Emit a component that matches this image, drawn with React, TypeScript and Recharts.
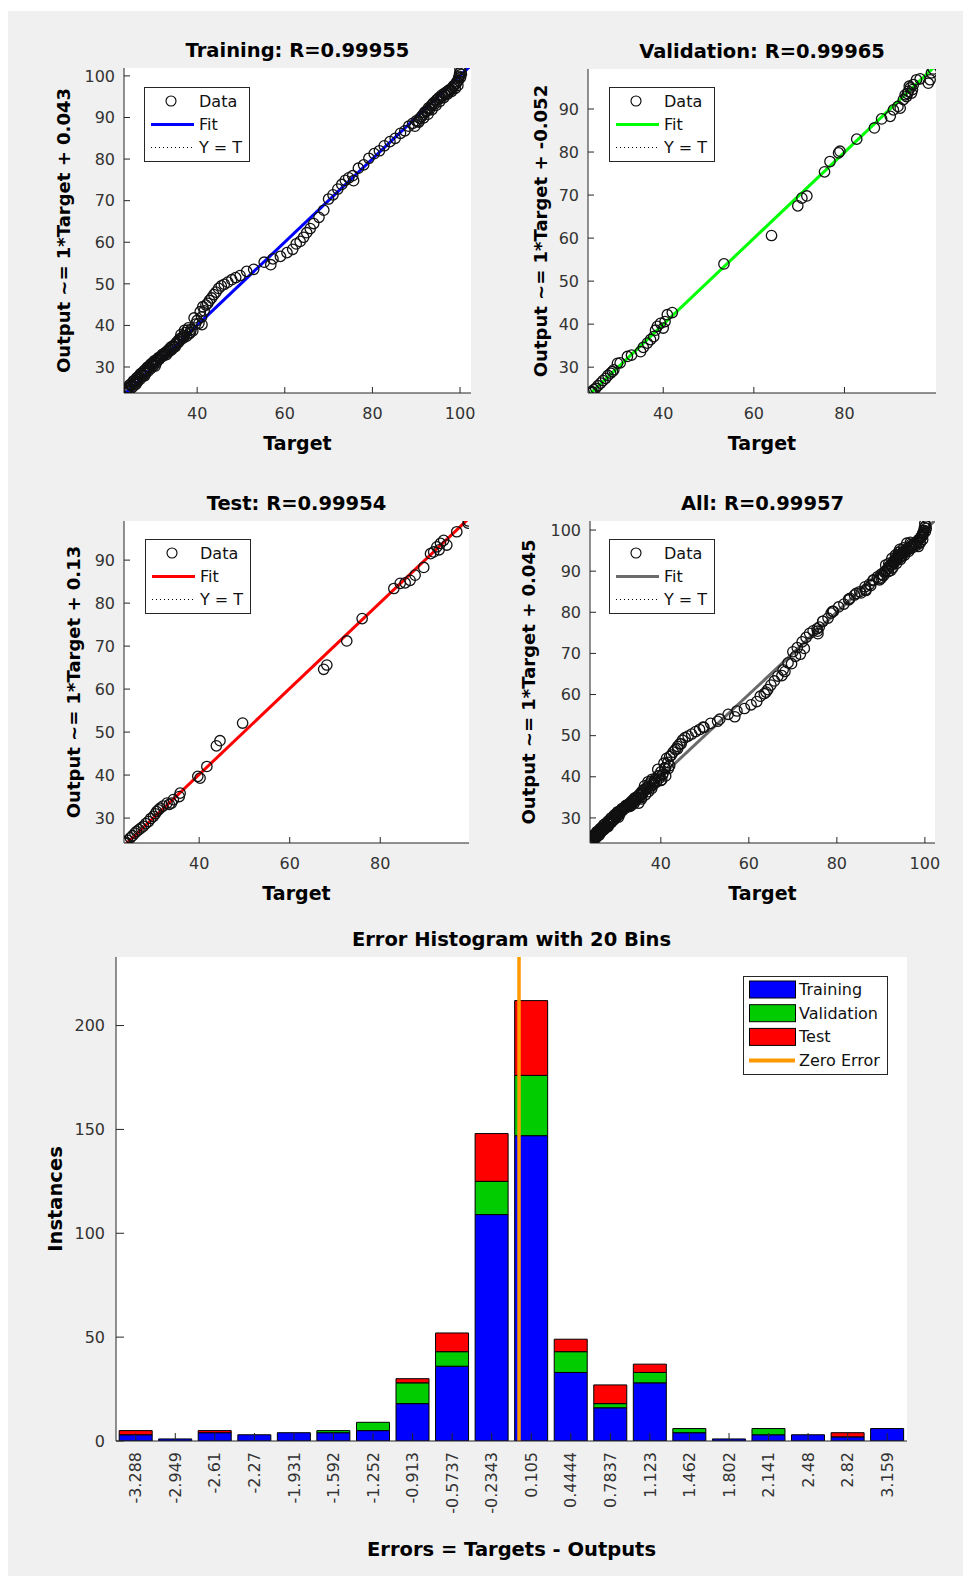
import React from "react";
import { Bar, BarChart, CartesianGrid, ReferenceLine, Scatter, ScatterChart, XAxis, YAxis } from "recharts";

// ---- regression data: [target, output] pairs ----
const trainingPairs: [number, number][] = [
  [23.6, 23.8], [23.9, 24.3], [24.1, 25.0], [24.2, 24.0], [24.4, 24.9], [24.6, 25.7], [24.7, 24.6],
  [24.9, 25.9], [25.0, 25.5], [25.3, 25.2], [25.4, 26.6], [25.5, 26.1], [25.7, 26.8], [25.8, 25.9],
  [26.0, 25.8], [26.1, 26.7], [26.2, 27.4], [26.4, 26.5], [26.5, 27.6], [26.7, 27.3], [27.0, 27.1],
  [27.0, 28.3], [27.3, 28.0], [27.3, 28.5], [27.6, 27.8], [27.8, 29.0], [27.9, 28.6], [28.0, 27.9],
  [28.1, 29.3], [28.2, 28.4], [28.5, 29.2], [28.6, 29.9], [28.8, 29.0], [28.9, 30.1], [29.1, 29.8],
  [29.4, 29.6], [29.4, 30.7], [29.7, 30.5], [29.8, 31.0], [30.0, 30.3], [30.2, 31.5], [30.3, 31.1],
  [30.4, 30.2], [30.6, 31.6], [30.7, 31.0], [31.0, 31.7], [31.1, 32.2], [31.4, 31.9], [31.5, 32.4],
  [31.8, 32.5], [32.0, 33.0], [32.2, 32.6], [32.4, 33.2], [32.6, 33.1], [32.8, 33.5], [33.0, 33.0],
  [33.2, 33.9], [33.4, 33.6], [33.6, 34.3], [33.8, 33.9], [34.0, 34.8], [34.2, 34.2], [34.4, 35.0],
  [34.6, 34.7], [34.9, 35.4], [35.0, 34.9], [35.2, 35.8], [35.4, 35.6], [35.6, 36.3], [35.8, 36.0],
  [36.0, 36.8], [36.2, 36.5], [36.3, 37.8], [36.6, 37.2], [36.9, 37.0], [37.0, 37.5], [37.1, 38.8],
  [37.4, 38.3], [37.6, 37.4], [37.8, 38.9], [38.0, 39.4], [38.2, 38.0], [38.4, 38.3], [38.6, 39.0],
  [39.0, 38.7], [39.3, 41.8], [39.6, 40.3], [40.0, 41.2], [40.4, 40.5], [40.7, 43.3], [41.0, 42.0],
  [41.1, 40.2], [41.3, 44.5], [41.6, 43.5], [42.0, 44.9], [42.4, 45.3], [42.8, 46.0], [43.3, 46.6],
  [43.8, 47.4], [44.3, 48.0], [44.9, 48.9], [45.5, 49.5], [46.2, 49.9], [47.0, 50.4], [47.9, 51.0],
  [48.8, 51.5], [49.8, 52.0], [51.3, 53.0], [52.9, 53.5], [55.3, 55.2], [56.8, 54.6], [57.3, 56.0],
  [59.0, 56.6], [60.5, 57.5], [61.8, 58.3], [62.6, 59.6], [63.5, 60.2], [64.3, 61.2], [65.0, 62.3],
  [65.8, 63.3], [66.6, 64.5], [67.8, 66.0], [68.9, 67.7], [70.0, 70.4], [71.0, 71.4], [72.1, 72.8],
  [73.0, 73.9], [73.8, 74.9], [74.6, 75.5], [75.5, 76.0], [75.7, 74.8], [76.8, 77.8], [78.0, 78.6],
  [79.2, 80.2], [80.4, 81.3], [81.6, 82.0], [82.7, 83.2], [84.0, 84.2], [85.2, 85.0], [86.4, 86.2],
  [87.4, 86.8], [88.3, 87.9], [89.2, 88.6], [89.7, 87.9], [90.0, 89.2], [90.4, 89.1], [90.6, 88.9],
  [90.8, 89.8], [91.2, 90.2], [91.5, 90.6], [91.7, 89.9], [91.9, 91.2], [92.2, 91.5], [92.5, 91.6],
  [92.7, 90.8], [92.8, 92.3], [93.1, 92.1], [93.4, 92.8], [93.6, 91.9], [93.7, 93.2], [94.0, 93.6],
  [94.3, 93.3], [94.5, 92.9], [94.6, 94.2], [94.9, 94.4], [95.2, 94.8], [95.4, 93.9], [95.5, 94.6],
  [95.8, 95.4], [96.1, 95.2], [96.3, 94.8], [96.4, 95.8], [96.7, 95.5], [97.0, 96.2], [97.2, 95.7],
  [97.3, 96.4], [97.6, 96.7], [97.9, 96.6], [98.1, 96.3], [98.2, 97.1], [98.5, 97.6], [98.8, 97.8],
  [98.9, 97.0], [99.1, 98.2], [99.3, 98.6], [99.5, 97.7], [99.6, 98.9], [99.7, 99.5], [99.8, 99.9],
  [99.9, 100.6], [100.1, 99.6], [100.2, 101.0], [100.3, 100.4], [100.0, 101.6],
];

const validationPairs: [number, number][] = [
  [24.0, 24.1], [24.2, 24.3], [24.4, 24.2], [24.7, 24.8], [25.1, 25.1], [25.6, 25.7], [26.2, 26.3],
  [26.7, 26.9], [27.3, 27.4], [27.8, 28.1], [28.4, 28.6], [28.8, 29.0], [29.1, 29.4], [29.9, 30.9],
  [30.5, 31.0], [32.1, 32.5], [33.0, 32.8], [35.0, 33.6], [35.6, 34.6], [36.5, 35.6], [37.2, 36.4],
  [37.9, 37.1], [38.3, 38.6], [38.7, 39.5], [39.4, 40.2], [40.0, 39.1], [40.4, 40.6], [40.9, 42.2],
  [42.0, 42.7], [53.4, 54.0], [63.9, 60.6], [69.7, 67.5], [70.6, 69.3], [71.7, 69.8], [75.6, 75.4],
  [76.8, 77.8], [78.7, 79.8], [79.0, 80.2], [82.7, 83.0], [86.6, 85.6], [88.2, 87.7], [90.1, 88.3],
  [90.8, 89.8], [91.8, 90.6], [92.3, 90.2], [93.0, 92.2], [93.4, 93.3], [93.7, 92.9], [93.9, 93.6],
  [94.1, 94.1], [94.3, 95.3], [94.5, 94.9], [94.8, 93.7], [95.0, 94.5], [95.2, 95.7], [95.9, 96.8],
  [96.7, 97.0], [98.5, 96.0], [98.9, 96.8], [99.2, 98.4], [99.6, 99.3],
];

const testPairs: [number, number][] = [
  [23.5, 24.2], [23.7, 24.4], [23.9, 24.3], [24.2, 24.8], [24.8, 25.4], [25.3, 25.9], [25.8, 26.5],
  [26.2, 26.9], [26.7, 27.3], [27.2, 27.7], [27.7, 28.1], [28.2, 28.7], [28.8, 29.2], [29.3, 29.9],
  [29.9, 30.4], [30.3, 31.0], [30.6, 31.5], [31.0, 31.9], [31.4, 32.3], [32.0, 32.8], [32.9, 33.5],
  [33.4, 33.2], [33.9, 33.5], [34.3, 34.3], [35.6, 35.0], [35.8, 35.8], [39.7, 39.7], [40.2, 39.3],
  [41.7, 42.0], [43.8, 46.8], [44.6, 48.0], [49.6, 52.1], [67.5, 64.6], [68.2, 65.6], [72.6, 71.2],
  [76.0, 76.4], [83.0, 83.4], [84.4, 84.6], [85.5, 84.7], [86.6, 85.3], [87.7, 86.5], [89.6, 88.3],
  [91.1, 91.5], [91.8, 91.9], [92.5, 93.1], [93.0, 92.4], [93.3, 93.9], [94.0, 94.6], [94.7, 93.5],
  [96.9, 96.6], [99.5, 99.1], [99.4, 98.6],
];

const allPairs: [number, number][] = [...trainingPairs, ...validationPairs, ...testPairs];

// ---- error histogram ----
const binLabels = [
  "-3.288", "-2.949", "-2.61", "-2.27", "-1.931", "-1.592", "-1.252", "-0.913", "-0.5737", "-0.2343",
  "0.105", "0.4444", "0.7837", "1.123", "1.462", "1.802", "2.141", "2.48", "2.82", "3.159",
];
const trainingCounts = [3, 1, 4, 3, 4, 4, 5, 18, 36, 109, 147, 33, 16, 28, 4, 1, 3, 3, 2, 6];
const validationCounts = [0, 0, 0, 0, 0, 1, 4, 10, 7, 16, 29, 10, 2, 5, 2, 0, 3, 0, 0, 0];
const testCounts = [2, 0, 1, 0, 0, 0, 0, 2, 9, 23, 36, 6, 9, 4, 0, 0, 0, 0, 2, 0];
const histTicks = [0, 50, 100, 150, 200];

const FONT = '"DejaVu Sans", sans-serif';
const INK = "#262626";
const TICK = { fontSize: 16, fill: "#333", fontFamily: FONT };

type Box = { x: number; y: number; w: number; h: number };
type PanelSpec = {
  title: string;
  yLabel: string;
  pairs: [number, number][];
  fit: string;
  intercept: number;
  xDomain: [number, number];
  yDomain: [number, number];
  xTicks: number[];
  yTicks: number[];
  box: Box;
  yLabelX: number;
  legend: { x: number; y: number };
};

const panels: PanelSpec[] = [
  {
    title: "Training: R=0.99955", yLabel: "Output ~= 1*Target + 0.043", pairs: trainingPairs,
    fit: "#0000ff", intercept: 0.043, xDomain: [23.3, 102.5], yDomain: [23.75, 101.9],
    xTicks: [40, 60, 80, 100], yTicks: [30, 40, 50, 60, 70, 80, 90, 100],
    box: { x: 124, y: 68, w: 347, h: 325 }, yLabelX: 63, legend: { x: 144, y: 87 },
  },
  {
    title: "Validation: R=0.99965", yLabel: "Output ~= 1*Target + -0.052", pairs: validationPairs,
    fit: "#00ff00", intercept: -0.052, xDomain: [23.4, 100.2], yDomain: [24.0, 99.3],
    xTicks: [40, 60, 80], yTicks: [30, 40, 50, 60, 70, 80, 90],
    box: { x: 588, y: 69, w: 348, h: 324 }, yLabelX: 540, legend: { x: 609, y: 87 },
  },
  {
    title: "Test: R=0.99954", yLabel: "Output ~= 1*Target + 0.13", pairs: testPairs,
    fit: "#ff0000", intercept: 0.13, xDomain: [23.4, 99.6], yDomain: [24.2, 99.1],
    xTicks: [40, 60, 80], yTicks: [30, 40, 50, 60, 70, 80, 90],
    box: { x: 124, y: 521, w: 345, h: 322 }, yLabelX: 73, legend: { x: 145, y: 539 },
  },
  {
    title: "All: R=0.99957", yLabel: "Output ~= 1*Target + 0.045", pairs: allPairs,
    fit: "#6a6a6a", intercept: 0.045, xDomain: [23.9, 102.3], yDomain: [23.9, 102.2],
    xTicks: [40, 60, 80, 100], yTicks: [30, 40, 50, 60, 70, 80, 90, 100],
    box: { x: 590, y: 521, w: 345, h: 322 }, yLabelX: 528, legend: { x: 609, y: 539 },
  },
];

const GUTTER_L = 70;
const GUTTER_B = 40;
const PAD = 10;
const blank = () => "";

const ring = (p: any) => <circle cx={p.cx} cy={p.cy} r={5.2} fill="none" stroke="#111" strokeWidth={1.3} />;

function RegressionChart({ spec }: { spec: PanelSpec }) {
  const { box } = spec;
  const data = spec.pairs.map(([t, o]) => ({ t, o }));
  const lo = Math.min(spec.xDomain[0], spec.yDomain[0]);
  const hi = Math.max(spec.xDomain[1], spec.yDomain[1]);
  const width = box.w + GUTTER_L + PAD;
  const height = box.h + GUTTER_B + PAD;
  return (
    <div style={{ position: "absolute", left: box.x - GUTTER_L, top: box.y - PAD }}>
      <ScatterChart width={width} height={height} margin={{ top: PAD, right: PAD, bottom: 0, left: 0 }}>
        <CartesianGrid fill="#ffffff" stroke="none" />
        <XAxis type="number" dataKey="t" domain={spec.xDomain} ticks={spec.xTicks} interval={0} allowDataOverflow
          height={GUTTER_B} tickSize={-6} tickMargin={21} stroke={INK} tick={TICK} />
        <XAxis xAxisId="top" orientation="top" type="number" domain={spec.xDomain} ticks={spec.xTicks} interval={0}
          allowDataOverflow height={0} tickSize={-6} tickFormatter={blank} stroke={INK} />
        <YAxis type="number" dataKey="o" domain={spec.yDomain} ticks={spec.yTicks} interval={0} allowDataOverflow
          width={GUTTER_L} tickSize={-6} tickMargin={15} stroke={INK} tick={TICK} />
        <YAxis yAxisId="right" orientation="right" type="number" domain={spec.yDomain} ticks={spec.yTicks} interval={0}
          allowDataOverflow width={0} tickSize={-6} tickFormatter={blank} stroke={INK} />
        <Scatter data={data} isAnimationActive={false} shape={ring} />
        <ReferenceLine segment={[{ x: lo, y: lo }, { x: hi, y: hi }]} stroke="#000" strokeDasharray="1 3"
          ifOverflow="hidden" />
        <ReferenceLine segment={[{ x: lo, y: lo + spec.intercept }, { x: hi, y: hi + spec.intercept }]}
          stroke={spec.fit} strokeWidth={3} ifOverflow="hidden" />
      </ScatterChart>
    </div>
  );
}

const binCenters = binLabels.map(Number);
const HIST: Box = { x: 116, y: 957, w: 791, h: 484 };

function HistTick(props: any) {
  const { x, y, payload } = props;
  const idx = binCenters.indexOf(payload.value);
  return (
    <text x={x} y={y} transform={`rotate(-90, ${x}, ${y})`} textAnchor="end" dy="0.35em"
      fontSize={16} fill="#333" fontFamily={FONT}>
      {idx >= 0 ? binLabels[idx] : payload.value}
    </text>
  );
}

function ErrorHistogram() {
  const data = binLabels.map((label, i) => ({
    center: binCenters[i],
    training: trainingCounts[i],
    validation: validationCounts[i],
    test: testCounts[i],
  }));
  const n = binCenters.length;
  const binWidth = (binCenters[n - 1] - binCenters[0]) / (n - 1);
  const xDomain: [number, number] = [binCenters[0] - binWidth / 2, binCenters[n - 1] + binWidth / 2];
  const yw = 50;
  const xh = 80;
  return (
    <div style={{ position: "absolute", left: HIST.x - yw, top: HIST.y - PAD }}>
      <BarChart width={HIST.w + yw + PAD} height={HIST.h + PAD + xh} data={data}
        margin={{ top: PAD, right: PAD, bottom: 0, left: 0 }} barCategoryGap="8%">
        <CartesianGrid fill="#ffffff" stroke="none" />
        <XAxis dataKey="center" type="number" domain={xDomain} ticks={binCenters} interval={0} allowDataOverflow
          height={xh} tickSize={-8} tickMargin={19} stroke={INK} tick={<HistTick />} />
        <YAxis domain={[0, 233]} ticks={histTicks} interval={0} allowDataOverflow width={yw} tickSize={-8}
          tickMargin={19} stroke={INK} tick={TICK} />
        <Bar dataKey="training" stackId="err" fill="#0000ff" stroke="#000" strokeWidth={1} isAnimationActive={false} />
        <Bar dataKey="validation" stackId="err" fill="#00cc00" stroke="#000" strokeWidth={1} isAnimationActive={false} />
        <Bar dataKey="test" stackId="err" fill="#ff0000" stroke="#000" strokeWidth={1} isAnimationActive={false} />
        <ReferenceLine x={0} stroke="#ff9900" strokeWidth={3.5} />
      </BarChart>
    </div>
  );
}

function FitLegend({ x, y, color }: { x: number; y: number; color: string }) {
  const text = { fontSize: 16, fontFamily: FONT, fill: "#111", dominantBaseline: "central" as const };
  return (
    <g transform={`translate(${x}, ${y})`}>
      <rect x={0.5} y={0.5} width={105} height={74} fill="#fff" stroke={INK} />
      <circle cx={27} cy={14} r={5} fill="none" stroke="#000" strokeWidth={1.1} />
      <text x={55} y={14} {...text}>Data</text>
      <line x1={7} x2={50} y1={37.5} y2={37.5} stroke={color} strokeWidth={3} />
      <text x={55} y={37.5} {...text}>Fit</text>
      <line x1={7} x2={50} y1={60.5} y2={60.5} stroke="#000" strokeDasharray="1 3" />
      <text x={55} y={60.5} {...text}>Y = T</text>
    </g>
  );
}

const histLegend = [
  { name: "Training", color: "#0000ff" },
  { name: "Validation", color: "#00cc00" },
  { name: "Test", color: "#ff0000" },
];

function HistLegend() {
  const text = { fontSize: 16, fontFamily: FONT, fill: "#111", dominantBaseline: "central" as const };
  return (
    <g transform="translate(743, 976)">
      <rect x={0.5} y={0.5} width={144} height={98} fill="#fff" stroke={INK} />
      {histLegend.map((item, i) => (
        <g key={item.name}>
          <rect x={6.5} y={5 + i * 23.7} width={46} height={17} fill={item.color} stroke="#000" />
          <text x={56} y={13.5 + i * 23.7} {...text}>{item.name}</text>
        </g>
      ))}
      <line x1={6} x2={52} y1={84.5} y2={84.5} stroke="#ff9900" strokeWidth={4} />
      <text x={56} y={84.5} {...text}>Zero Error</text>
    </g>
  );
}

export default function App() {
  const bold = { fontFamily: FONT, fontWeight: 700, fill: "#000" };
  return (
    <div style={{ position: "relative", width: 963, height: 1576, background: "#fff", overflow: "hidden" }}>
      <style>{"body{margin:0}"}</style>
      <div style={{ position: "absolute", left: 8, top: 11, right: 0, bottom: 0, background: "#f0f0f0" }} />
      {panels.map((p) => (
        <RegressionChart key={p.title} spec={p} />
      ))}
      <ErrorHistogram />
      <svg width={963} height={1576} style={{ position: "absolute", left: 0, top: 0, pointerEvents: "none" }}>
        {panels.map((p) => (
          <g key={p.title}>
            <text x={p.box.x + p.box.w / 2} y={p.box.y - 11} textAnchor="middle" fontSize={19.5} {...bold}>
              {p.title}
            </text>
            <text x={p.box.x + p.box.w / 2} y={p.box.y + p.box.h + 57} textAnchor="middle" fontSize={19} {...bold}>
              Target
            </text>
            <text x={p.yLabelX} y={p.box.y + p.box.h / 2} transform={`rotate(-90, ${p.yLabelX}, ${p.box.y + p.box.h / 2})`}
              textAnchor="middle" dominantBaseline="central" fontSize={18} {...bold}>
              {p.yLabel}
            </text>
            <FitLegend x={p.legend.x} y={p.legend.y} color={p.fit} />
          </g>
        ))}
        <text x={HIST.x + HIST.w / 2} y={946} textAnchor="middle" fontSize={19.5} {...bold}>
          Error Histogram with 20 Bins
        </text>
        <text x={HIST.x + HIST.w / 2} y={1556} textAnchor="middle" fontSize={19.5} {...bold}>
          Errors = Targets - Outputs
        </text>
        <text x={55} y={HIST.y + HIST.h / 2} transform={`rotate(-90, 55, ${HIST.y + HIST.h / 2})`}
          textAnchor="middle" dominantBaseline="central" fontSize={19.5} {...bold}>
          Instances
        </text>
        <HistLegend />
      </svg>
    </div>
  );
}
